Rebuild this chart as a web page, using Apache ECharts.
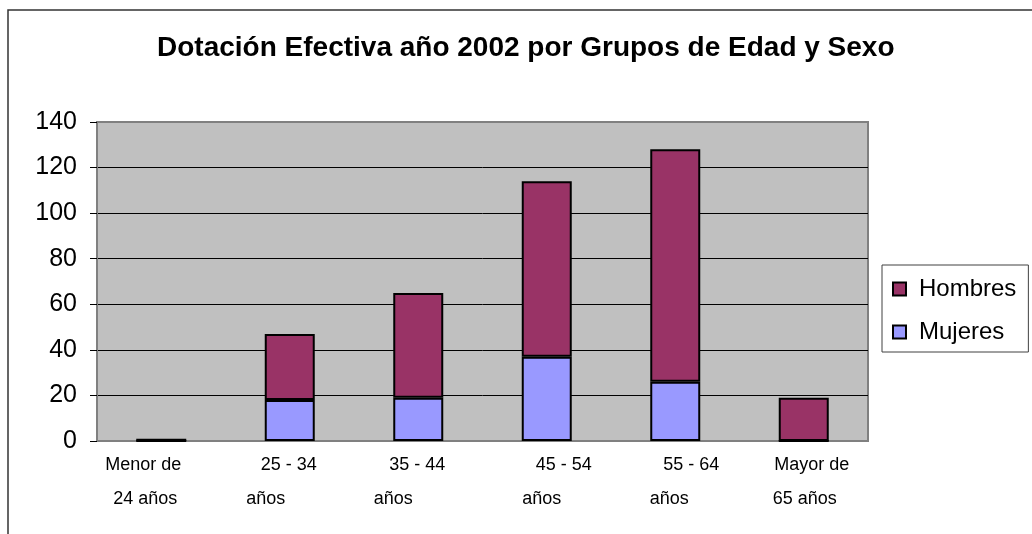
<!DOCTYPE html>
<html>
<head>
<meta charset="utf-8">
<script src="https://cdn.jsdelivr.net/npm/echarts@6/dist/echarts.min.js"></script>
<style>
    html, body { margin: 0; padding: 0; background: #fff; }
    #main { width: 1032px; height: 534px; }
</style>
</head>
<body>
<div id="main"></div>
<script>
    // data
    var categories = ['Menor de\n24 años', '25 - 34\naños', '35 - 44\naños', '45 - 54\naños', '55 - 64\naños', 'Mayor de\n65 años'];
    var mujeres = [0, 18, 19, 37, 26, 0];
    var hombres = [1, 29, 46, 77, 102, 19];
    var yMin = 0, yMax = 140, yStep = 20;

    // label line shifts (px) to mimic the uneven wrapping of the original
    var shiftTop = [-18, -1, -1, 17, 16, 8];
    var shiftBottom = [-16, -24, -25, -5, -6, 1];

    var font = 'Liberation Sans, Arial, sans-serif';

    function shiftPad(d) {
        return d < 0 ? [0, -2 * d, 0, 0] : [0, 0, 0, 2 * d];
    }

    var rich = {};
    for (var i = 0; i < categories.length; i++) {
        rich['t' + i] = {fontSize: 18, fontFamily: font, color: '#000', lineHeight: 34, padding: shiftPad(shiftTop[i])};
        rich['b' + i] = {fontSize: 18, fontFamily: font, color: '#000', lineHeight: 34, padding: shiftPad(shiftBottom[i])};
    }

    var chart = echarts.init(document.getElementById('main'));

    var barStyle = function (color) {
        return {color: color, borderColor: '#000', borderWidth: 2};
    };

    var option = {
        backgroundColor: '#fff',
        animation: false,
        textStyle: {fontFamily: font},
        graphic: [{
            type: 'rect',
            silent: true,
            shape: {x: 8, y: 10, width: 1200, height: 800},
            style: {fill: 'none', stroke: '#333', lineWidth: 1.5}
        }],
        title: {
            text: 'Dotación Efectiva año 2002 por Grupos de Edad y Sexo',
            left: 157,
            top: 34,
            padding: 0,
            textStyle: {fontSize: 28, fontWeight: 'bold', color: '#000', fontFamily: font}
        },
        legend: {
            orient: 'vertical',
            left: 882,
            top: 265,
            padding: [12, 12, 8, 10],
            itemWidth: 13,
            itemHeight: 13,
            itemGap: 19,
            borderColor: '#404040',
            borderWidth: 1,
            backgroundColor: '#fff',
            icon: 'rect',
            data: ['Hombres', 'Mujeres'],
            textStyle: {fontSize: 24, color: '#000', fontFamily: font, padding: [0, 0, 0, 8]}
        },
        grid: {
            show: true,
            left: 97,
            top: 122,
            right: 164,
            bottom: 93,
            backgroundColor: '#C0C0C0',
            borderColor: '#808080',
            borderWidth: 2
        },
        xAxis: {
            type: 'category',
            data: categories,
            axisLine: {lineStyle: {color: '#808080', width: 2}},
            axisTick: {show: false},
            axisLabel: {
                interval: 0,
                margin: 7,
                formatter: function (value, index) {
                    var parts = value.split('\n');
                    return '{t' + index + '|' + parts[0] + '}\n{b' + index + '|' + parts[1] + '}';
                },
                rich: rich
            }
        },
        yAxis: {
            type: 'value',
            min: yMin,
            max: yMax,
            interval: yStep,
            axisLine: {show: true, lineStyle: {color: '#808080', width: 2}},
            axisTick: {show: true, length: 7, lineStyle: {color: '#000'}},
            axisLabel: {fontSize: 25, color: '#000', margin: 20, fontFamily: font},
            splitLine: {
                show: true,
                lineStyle: {color: ['#808080', '#000', '#000', '#000', '#000', '#000', '#000', '#808080'], width: 1}
            }
        },
        series: [{
            name: 'Mujeres',
            type: 'bar',
            stack: 'total',
            barWidth: 50,
            data: mujeres,
            itemStyle: barStyle('#9999FF')
        }, {
            name: 'Hombres',
            type: 'bar',
            stack: 'total',
            barWidth: 50,
            data: hombres,
            itemStyle: barStyle('#993366')
        }]
    };

    chart.setOption(option);
</script>
</body>
</html>
